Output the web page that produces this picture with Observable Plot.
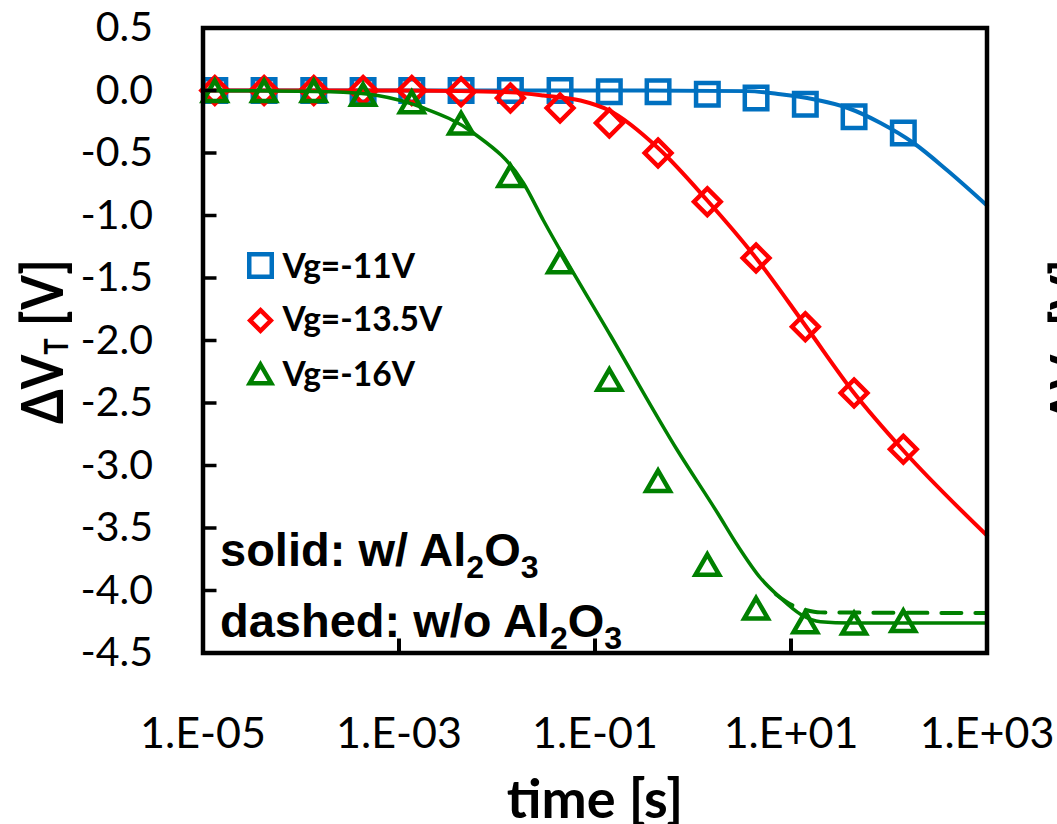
<!DOCTYPE html>
<html>
<head>
<meta charset="utf-8">
<script src="https://cdn.jsdelivr.net/npm/d3@7"></script>
<script src="https://cdn.jsdelivr.net/npm/@observablehq/plot@0.6"></script>
<style>
  html, body { margin: 0; padding: 0; background: white; overflow: hidden; }
  #chart svg { display: block; }
</style>
</head>
<body>
<div id="chart"></div>
<script>
// ---- data ----
const times = [1.32e-5, 4.2e-5, 1.35e-4, 4.3e-4, 1.35e-3, 4.3e-3, 1.37e-2, 4.4e-2, 0.14, 0.44, 1.4, 4.4, 14, 44, 140];
const vg11  = [0, 0, 0, 0, 0, 0, 0, 0, -0.01, -0.01, -0.03, -0.06, -0.11, -0.21, -0.34];
const vg135 = [0, 0, 0, 0, 0, -0.01, -0.06, -0.14, -0.26, -0.50, -0.89, -1.34, -1.89, -2.42, -2.87];
const vg16  = [-0.03, -0.03, -0.03, -0.06, -0.12, -0.29, -0.71, -1.40, -2.34, -3.15, -3.82, -4.17, -4.28, -4.29, -4.27];

// fitted curves (solid: with Al2O3)
const fit11T = [1e-5, 0.3, 3.6, 7.8, 17, 38, 82, 178, 395, 1000];
const fit11V = [0, 0, -0.005, -0.03, -0.07, -0.14, -0.26, -0.42, -0.64, -0.92];
const fit135T = [1e-5, 1e-3, 4.3e-3, 0.0137, 0.0298, 0.0711, 0.14, 0.44, 1.4, 4.4, 14, 44, 140, 1000];
const fit135V = [0, 0, -0.005, -0.015, -0.04, -0.08, -0.16, -0.46, -0.88, -1.34, -1.88, -2.42, -2.88, -3.56];
const fit16T = [1e-5, 2e-4, 6.04e-4, 1.78e-3, 5.75e-3, 0.0186, 0.0298, 0.144, 0.695, 1.78, 2.85, 4.88, 7.82, 12.5, 20, 40.5, 1000];
const fit16V = [0, -0.01, -0.04, -0.14, -0.34, -0.74, -1.04, -1.96, -2.88, -3.38, -3.64, -3.90, -4.06, -4.19, -4.25, -4.26, -4.26];
// dashed: without Al2O3 (visible only where it departs from the solid green curve)
const dash16T = [7.0, 10.4, 14, 20, 1000];
const dash16V = [-4.03, -4.12, -4.155, -4.175, -4.18];

const seriesNames = ["Vg=-11V", "Vg=-13.5V", "Vg=-16V"];
const yTicks = [0.5, 0, -0.5, -1, -1.5, -2, -2.5, -3, -3.5, -4, -4.5];
const yTickLabels = ["0.5", "0.0", "-0.5", "-1.0", "-1.5", "-2.0", "-2.5", "-3.0", "-3.5", "-4.0", "-4.5"];
const xTicks = [1e-5, 1e-3, 1e-1, 1e1, 1e3];
const xTickLabels = ["1.E-05", "1.E-03", "1.E-01", "1.E+01", "1.E+03"];
const xInnerTicks = [1e-3, 1e-1, 1e1];

// ---- styling ----
const colors = ["#0070C0", "#FF0000", "#008000"];
const symbols = ["square", "diamond2", "triangle"];
const markerR = [12.7, 12, 8.8];
const legendR = [12.7, 9.3, 8];

const pts = (xs, ys) => xs.map((t, i) => ({t, v: ys[i]}));
const dataSeries = [pts(times, vg11), pts(times, vg135), pts(times, vg16)];
const fitSeries = [pts(fit11T, fit11V), pts(fit135T, fit135V), pts(fit16T, fit16V)];
const lineW = [4, 4, 3.5];

const marks = [];
for (let i = 0; i < 3; i++) {
  marks.push(Plot.line(fitSeries[i], {x: "t", y: "v", stroke: colors[i], strokeWidth: lineW[i], curve: "monotone-x"}));
  marks.push(Plot.dot(dataSeries[i], {x: "t", y: "v", symbol: symbols[i], r: markerR[i], stroke: colors[i], strokeWidth: 4.5, fill: "none"}));
}
marks.push(Plot.line(pts(dash16T, dash16V), {x: "t", y: "v", stroke: colors[2], strokeWidth: 4, strokeDasharray: "20,14", curve: "monotone-x"}));

// legend
const legendDy = [237.5, 292.5, 349];
const legendTextDy = [239.3, 292.3, 347.3];
for (let i = 0; i < 3; i++) {
  marks.push(Plot.dot([0], {frameAnchor: "top-left", dx: 57.5, dy: legendDy[i], symbol: symbols[i], r: legendR[i], stroke: colors[i], strokeWidth: 4.5, fill: "none"}));
  marks.push(Plot.text([seriesNames[i]], {frameAnchor: "top-left", dx: 79.5, dy: legendTextDy[i], text: d => d, textAnchor: "start", lineAnchor: "middle", fontSize: 33.5, fontWeight: "bold", fill: "black"}));
}

// axes
marks.push(Plot.axisY({ticks: yTicks, tickFormat: d => yTickLabels[yTicks.indexOf(d)], tickSize: 0, tickPadding: 50, fontSize: 41, label: null}));
marks.push(Plot.axisY({ticks: yTicks, tickSize: 14, dx: 14, strokeWidth: 3.5, fill: "none", label: null}));
marks.push(Plot.axisX({ticks: xTicks, tickFormat: d => xTickLabels[xTicks.indexOf(d)], tickSize: 0, tickPadding: 64, fontSize: 43, label: null}));
marks.push(Plot.axisX({ticks: xInnerTicks, tickSize: 14, dy: -14, strokeWidth: 4, fill: "none", label: null}));
marks.push(Plot.frame({stroke: "black", strokeWidth: 4.5}));

const svg = Plot.plot({
  width: 1057,
  height: 824,
  marginLeft: 202.5,
  marginRight: 70.5,
  marginTop: 27.5,
  marginBottom: 171.5,
  x: {type: "log", domain: [1e-5, 1e3]},
  y: {domain: [-4.5, 0.5]},
  style: {background: "white", color: "black", fontFamily: "Lato, 'Open Sans', sans-serif"},
  marks
});

const s = d3.select(svg);

// axis titles
function yTitle(x) {
  const t = s.append("text")
    .attr("transform", `translate(${x},341.5) rotate(-90)`)
    .attr("text-anchor", "middle")
    .attr("font-family", "Lato, 'Open Sans', sans-serif")
    .attr("font-weight", "bold")
    .attr("font-size", 58)
    .attr("textLength", 165)
    .attr("lengthAdjust", "spacingAndGlyphs")
    .attr("fill", "black");
  t.append("tspan").text("\u0394V");
  t.append("tspan").attr("font-size", 32).attr("dy", 5).text("T");
  t.append("tspan").attr("dy", -5).text(" [V]");
  return t;
}
yTitle(63);
yTitle(1092);

s.append("text")
  .attr("x", 595).attr("y", 818)
  .attr("text-anchor", "middle")
  .attr("font-family", "Lato, 'Open Sans', sans-serif")
  .attr("font-weight", "bold")
  .attr("font-size", 54)
  .attr("fill", "black")
  .text("time [s]");

// annotations
function note(y, prefix) {
  const t = s.append("text")
    .attr("x", 220).attr("y", y)
    .attr("text-anchor", "start")
    .attr("font-family", "'Liberation Sans', Arial, sans-serif")
    .attr("font-weight", "bold")
    .attr("font-size", 47)
    .attr("fill", "black");
  t.append("tspan").text(prefix + "Al");
  t.append("tspan").attr("font-size", 32).attr("dy", 12).text("2");
  t.append("tspan").attr("dy", -12).text("O");
  t.append("tspan").attr("font-size", 32).attr("dy", 12).text("3");
}
note(566, "solid: w/ ");
note(637, "dashed: w/o ");

document.getElementById("chart").appendChild(svg);
</script>
</body>
</html>
